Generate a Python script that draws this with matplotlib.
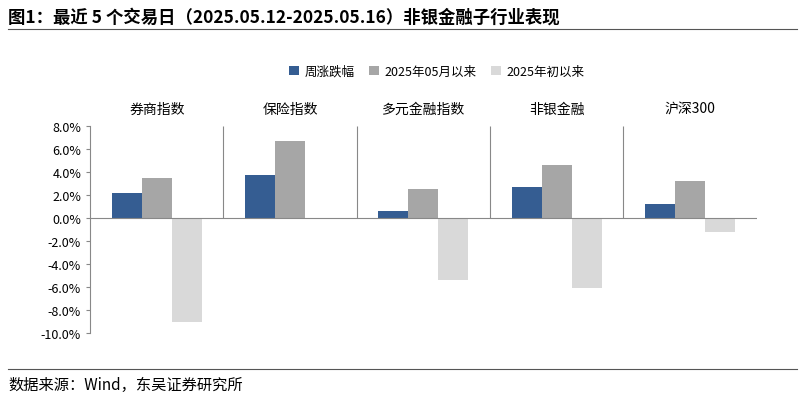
import matplotlib
matplotlib.use("Agg")
import matplotlib.pyplot as plt
import numpy as np

plt.rcParams["font.family"] = ["Noto Sans CJK SC"]

categories = ["券商指数", "保险指数", "多元金融指数", "非银金融", "沪深300"]
series_names = ["周涨跌幅", "2025年05月以来", "2025年初以来"]
weekly = [2.2, 3.7, 0.6, 2.7, 1.2]
since_may = [3.5, 6.7, 2.5, 4.6, 3.2]
since_year = [-9.0, 0.0, -5.4, -6.1, -1.2]
colors = ["#355d92", "#a6a6a6", "#d9d9d9"]
yticks = [8, 6, 4, 2, 0, -2, -4, -6, -8, -10]

fig = plt.figure(figsize=(8.05, 4.02), dpi=100)
ax = fig.add_axes([0.112, 0.169, 0.828, 0.515])
x = np.arange(len(categories))
w = 0.225
for i, (vals, c, n) in enumerate(zip([weekly, since_may, since_year], colors, series_names)):
    ax.bar(x + (i - 1) * w, vals, w, color=c, label=n)
ax.set_xlim(-0.5, len(categories) - 0.5)
ax.set_ylim(-10, 8)
ax.set_yticks(yticks)
ax.set_yticklabels([f"{v:.1f}%" for v in yticks], fontsize=9)
ax.set_xticks([])
for s in ["top", "right", "bottom"]:
    ax.spines[s].set_visible(False)
ax.spines["left"].set_color("#888888")
ax.axhline(0, color="#888888", lw=0.8)
ax.vlines(x[:-1] + 0.5, 0, 8, color="#888888", lw=0.8)
ax.tick_params(axis="y", length=3, color="#888888")
for xi, c in zip(x, categories):
    ax.text(xi, 8.9, c, ha="center", va="bottom", fontsize=10)
ax.legend(loc="center", bbox_to_anchor=(0.52, 1.265), ncol=3, frameon=False,
          fontsize=9, handlelength=0.8, handleheight=0.8, columnspacing=1.2, handletextpad=0.4)

fig.text(0.01, 0.955, "图1：最近 5 个交易日（2025.05.12-2025.05.16）非银金融子行业表现",
         fontsize=12.5, fontweight="bold", va="center")
fig.add_artist(plt.Line2D([0.01, 0.99], [0.925, 0.925], color="#555555", lw=0.8))
fig.add_artist(plt.Line2D([0.01, 0.99], [0.08, 0.08], color="#555555", lw=0.8))
fig.text(0.01, 0.04, "数据来源：Wind，东吴证券研究所", fontsize=11, va="center")
fig.savefig("out.png", dpi=100)
